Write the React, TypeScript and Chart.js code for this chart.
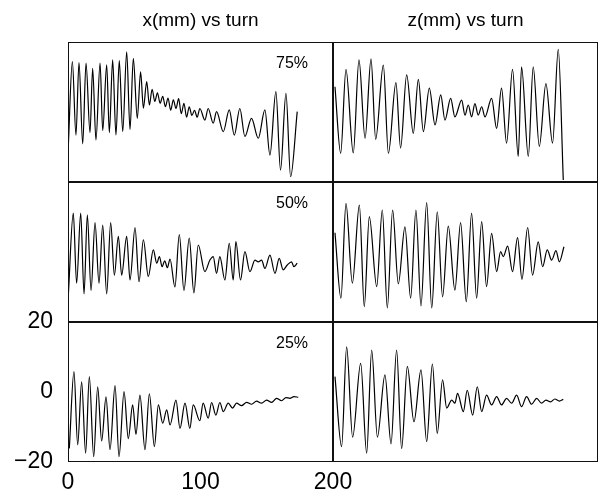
import React, { useEffect, useRef } from 'react';
import { Chart, registerables } from 'chart.js';

Chart.register(...registerables);

// ---------- data (turn, mm) ----------
const xTurns75 = [0.2, 3.3, 6.0, 8.3, 11.1, 13.6, 16.6, 18.6, 21.1, 24.2, 26.2, 29.2, 31.2, 33.7, 36.2, 38.7, 41.3, 44.3, 46.8, 49.3, 52.3, 54.8, 56.9, 59.4, 61.4, 63.5, 65.5, 67.5, 69.5, 71.5, 73.5, 75.5, 77.5, 79.5, 81.5, 83.5, 85.5, 87.5, 89.5, 91.5, 93.5, 95.5, 97.5, 99.5, 103.3, 105.8, 109.6, 112.1, 117.2, 121.7, 125.5, 129.7, 133.5, 138.5, 143.6, 148.6, 152.4, 156.9, 160.4, 164.5, 168.0, 173.0];
const xVals75 = [-10, 14.4, -6.6, 14.1, -9.1, 14, -5.9, 12.5, -8, 14, -5.3, 13.5, -5.9, 14.9, -6.6, 14.7, -5.6, 17.2, -5, 15.3, -1.8, 11.5, 1.1, 8.7, 2, 6.5, 3, 5.5, 2.5, 4.5, 1.5, 4, 0.5, 3.5, 1, 3.8, -0.5, 2.5, -1.5, 1.5, -1, 0.5, -1.5, 1, -2.3, 1, -3.2, 0.1, -5.6, 0.6, -6.6, 1, -7, -1.8, -7.5, 0.6, -12.3, 5.8, -16.6, 5.3, -18.5, 0.1];

const zTurns75 = [1.5, 5.8, 9.8, 15.3, 19.6, 24.2, 28.7, 32.2, 38.0, 41.8, 47.5, 51.0, 55.6, 60.6, 64.4, 68.2, 72.7, 77.0, 81.3, 84.5, 88.8, 92.0, 97.1, 99.6, 102.1, 104.6, 107.1, 109.6, 112.2, 114.7, 119.7, 123.5, 127.2, 131.0, 135.5, 139.8, 142.3, 147.4, 151.1, 155.7, 160.7, 165.7, 170.0, 173.8];
const zVals75 = [7.2, -11.8, 12.2, -11.7, 14.9, -7.5, 15.2, -7.8, 13.4, -11.8, 8.4, -10.3, 10.6, -6.1, 9.3, -5.6, 6.8, -3.7, 4.9, -2.3, 3.9, -1.4, 3.4, -0.9, 2.0, -1.4, 2.4, -0.9, 1.5, -1.4, 3.9, -4.7, 6.8, -8.9, 12.2, -12.7, 12.9, -12.7, 12.9, -9.8, 8.1, -8.9, 17.9, -19.4];

const xTurns50 = [0.25, 4.0, 6.5, 9.6, 12.1, 14.6, 17.4, 20.4, 23.4, 26.2, 29.2, 32.2, 35.0, 38.0, 40.5, 44.3, 46.8, 50.6, 53.6, 56.9, 60.6, 64.4, 67.0, 69.0, 71.0, 73.0, 75.0, 77.0, 80.7, 84.0, 87.5, 91.5, 95.0, 98.3, 103.3, 107.1, 109.6, 112.1, 114.6, 118.4, 121.7, 124.7, 126.7, 130.2, 133.5, 137.3, 141.1, 143.6, 146.1, 148.6, 152.4, 156.2, 159.4, 162.4, 165.5, 168.7, 170.5, 173.0];
const xVals50 = [-12.3, 11.1, -8.9, 11.1, -12, 10.6, -11, 8.4, -8.9, 7.7, -12, 8.4, -6.6, 4.5, -6.6, 4.5, -8, 7, -8.5, 3.5, -7, 0.6, -3.2, -1.3, -4.2, -2.5, -4.5, -2, -10, 5, -11, 4, -11.7, 2, -5.6, -2.3, -1.3, -6.1, -1.3, -8, 2.5, -8, 3, -8, 0.1, -5.6, -2.3, -2.8, -2.3, -4.7, -0.9, -6.1, -1.8, -5.1, -3.7, -2.8, -4.2, -3.2];

const zTurns50 = [1.5, 6.0, 9.8, 14.6, 19.9, 23.6, 27.4, 33.0, 37.2, 41.0, 45.0, 49.3, 54.3, 58.6, 62.6, 66.4, 70.7, 74.5, 78.7, 82.7, 87.0, 92.0, 96.3, 100.6, 104.6, 108.4, 112.2, 115.9, 119.7, 123.5, 126.5, 128.5, 131.8, 135.5, 139.3, 142.6, 146.9, 150.6, 154.9, 158.2, 161.7, 165.0, 168.3, 170.8, 174.3];
const zVals50 = [5.5, -13.2, 13.9, -8.9, 13.4, -15.6, 10.1, -9.9, 12, -16, 12, -9.1, 7.2, -13.2, 12, -15.4, 14.1, -16, 11.5, -12.8, 7.4, -10.9, 8.4, -14.2, 11.1, -13.2, 8.7, -9.9, 5.3, -5.6, 0.1, -1.3, 1.7, -5.6, 4.1, -7.8, 7, -6.6, 2.9, -4.2, 0.6, -2.3, 0.4, -2.8, 1.5];

const xTurns25 = [1.0, 4.5, 7.3, 10.3, 13.3, 16.1, 19.4, 22.4, 25.4, 28.7, 31.7, 35.5, 38.5, 42.3, 45.5, 48.8, 51.3, 54.3, 58.1, 61.4, 65.2, 68.2, 71.5, 74.5, 77.0, 81.5, 84.5, 88.3, 92.0, 94.5, 99.5, 102.0, 105.8, 108.4, 111.6, 114.6, 117.2, 120.9, 124.2, 127.2, 131.0, 134.8, 138.6, 142.3, 146.1, 149.9, 153.7, 157.4, 161.2, 164.5, 167.5, 170.5, 173.8];
const xVals25 = [-16.1, 5.8, -15.1, 2.9, -17.5, 4.4, -18.5, 1.5, -14, -1.4, -16.5, 1.8, -18.5, 0.1, -13.3, -3.7, -12.1, -0.9, -16.5, -0.5, -15.6, -3.7, -8.9, -5.1, -9.4, -2.3, -10.4, -3.2, -10.4, -3.7, -8.2, -3.2, -7.5, -3, -6.6, -3, -5.6, -3.2, -4.6, -3.2, -3.9, -2.95, -3.5, -2.6, -3.2, -2.3, -2.95, -1.8, -2.5, -1.6, -1.8, -1.3, -1.5];

const zTurns25 = [1.5, 6.5, 10.3, 14.8, 20.9, 25.4, 29.2, 33.5, 39.2, 43.8, 48.0, 51.8, 56.1, 61.1, 66.4, 70.7, 75.0, 78.7, 82.7, 85.8, 89.6, 92.0, 94.0, 98.4, 101.3, 105.4, 108.9, 112.2, 115.9, 119.7, 123.5, 127.2, 131.0, 134.8, 138.6, 142.3, 146.1, 149.9, 153.7, 157.4, 160.7, 164.2, 167.5, 170.8, 173.8];
const zVals25 = [4.4, -15.6, 12.9, -12.9, 8.2, -17.5, 12, -12.9, 4.9, -14.8, 12, -16.2, 7.3, -8.5, 6.3, -14.2, 8, -11.8, 3.5, -4.6, -2.3, -3.2, -0.4, -5.6, 0.5, -6.6, 1.5, -5.6, -0.9, -3.7, -1.3, -3.7, -1.8, -3.2, -0.9, -4.2, -1.3, -3.5, -1.8, -3.2, -2.3, -2.8, -2.0, -2.6, -2.1];

const xTickValues = [0, 100, 200];
const yTickValues = [-20, 0, 20];
const columnTitles = ['x(mm) vs turn', 'z(mm) vs turn'];
const rowLabels = ['75%', '50%', '25%'];

// ---------- layout (page pixels) ----------
const COL_LEFT = [68, 333];
const ROW_TOP = [42, 182, 322];
const PW = 265;
const PH = 140;
const FONT = "'Liberation Sans', Arial, Helvetica, sans-serif";
const TITLE_SIZE = 19;

type Spec = { turns: number[]; vals: number[]; col: number; row: number };

const specs: Spec[] = [
  { turns: xTurns75, vals: xVals75, col: 0, row: 0 },
  { turns: zTurns75, vals: zVals75, col: 1, row: 0 },
  { turns: xTurns50, vals: xVals50, col: 0, row: 1 },
  { turns: zTurns50, vals: zVals50, col: 1, row: 1 },
  { turns: xTurns25, vals: xVals25, col: 0, row: 2 },
  { turns: zTurns25, vals: zVals25, col: 1, row: 2 },
];

const framePlugin = {
  id: 'frame',
  afterDraw(chart: any) {
    const { ctx, chartArea: a } = chart;
    ctx.save();
    ctx.strokeStyle = '#111';
    ctx.lineWidth = 1;
    ctx.strokeRect(a.left + 0.5, a.top + 0.5, a.right - a.left - 1, a.bottom - a.top - 1);
    ctx.restore();
  },
};

function Panel({ spec }: { spec: Spec }) {
  const ref = useRef<HTMLCanvasElement | null>(null);
  const isTop = spec.row === 0;
  const isAxes = spec.col === 0 && spec.row === 2;

  let left = COL_LEFT[spec.col];
  let top = ROW_TOP[spec.row];
  let width = PW;
  let height = PH;
  let padding: any = 0;
  if (isTop) {
    top = 0;
    height = ROW_TOP[0] + PH;
  }
  if (isAxes) {
    left = 0;
    top = 300;
    width = 380;
    height = 193;
    padding = { left: 0, top: 22, right: 380 - 333, bottom: 0 };
  }

  useEffect(() => {
    if (!ref.current) return;
    const label = spec.col === 0 ? rowLabels[spec.row] : '';
    const labelPlugin = {
      id: 'rowLabel',
      afterDatasetsDraw(chart: any) {
        if (!label) return;
        const { ctx, chartArea: a } = chart;
        ctx.save();
        ctx.fillStyle = '#000';
        ctx.font = `16px ${FONT}`;
        ctx.textAlign = 'center';
        ctx.textBaseline = 'middle';
        ctx.fillText(label, a.left + 224, a.top + 22);
        ctx.restore();
      },
    };
    const chart = new Chart(ref.current, {
      type: 'line',
      data: {
        datasets: [
          {
            data: spec.turns.map((t, i) => ({ x: t, y: spec.vals[i] })),
            borderColor: '#000',
            borderWidth: 1.2,
            pointRadius: 0,
            cubicInterpolationMode: 'monotone',
            fill: false,
          },
        ],
      },
      options: {
        responsive: false,
        animation: false,
        devicePixelRatio: 1,
        layout: { padding },
        plugins: {
          legend: { display: false },
          tooltip: { enabled: false },
          title: {
            display: isTop,
            text: columnTitles[spec.col],
            color: '#000',
            font: { family: FONT, size: TITLE_SIZE, weight: 'normal', lineHeight: 1.2 },
            padding: { top: 9, bottom: 42 - 9 - TITLE_SIZE * 1.2 },
          },
        },
        scales: {
          x: {
            type: 'linear',
            min: 0,
            max: 200,
            display: isAxes,
            grid: { display: false, drawTicks: false },
            border: { display: false },
            afterBuildTicks: (s: any) => {
              s.ticks = xTickValues.map((v) => ({ value: v }));
            },
            afterFit: (s: any) => {
              if (!isAxes) return;
              s.height = 31;
              s.paddingLeft = 0;
              s.paddingRight = 0;
            },
            ticks: {
              color: '#000',
              padding: 7,
              maxRotation: 0,
              autoSkip: false,
              font: { family: FONT, size: 23 },
              callback: (v: any) => String(v),
            },
          },
          y: {
            type: 'linear',
            min: -20,
            max: 20,
            display: isAxes,
            grid: { display: false, drawTicks: false },
            border: { display: false },
            afterBuildTicks: (s: any) => {
              s.ticks = yTickValues.map((v) => ({ value: v }));
            },
            afterFit: (s: any) => {
              if (!isAxes) return;
              s.width = 68;
              s.paddingTop = 0;
              s.paddingBottom = 0;
            },
            ticks: {
              color: '#000',
              padding: 15,
              autoSkip: false,
              font: { family: FONT, size: 23 },
              callback: (v: any) => (v < 0 ? '\u2212' + Math.abs(v) : String(v)),
            },
          },
        },
      } as any,
      plugins: [framePlugin, labelPlugin],
    });
    return () => chart.destroy();
  }, []);

  return (
    <canvas
      ref={ref}
      width={width}
      height={height}
      style={{ position: 'absolute', left, top, width, height }}
    />
  );
}

export default function App() {
  return (
    <div style={{ position: 'absolute', left: 0, top: 0, width: 601, height: 493, background: '#fff' }}>
      {specs.map((s, i) => (
        <Panel key={i} spec={s} />
      ))}
    </div>
  );
}
